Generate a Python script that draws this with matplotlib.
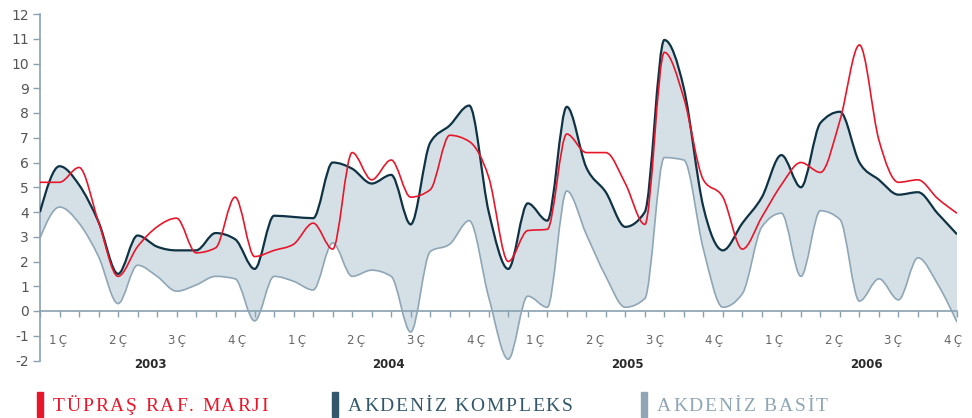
import numpy as np
import matplotlib
matplotlib.use('Agg')
import matplotlib.pyplot as plt
from matplotlib.path import Path
from matplotlib.patches import PathPatch, Rectangle

plt.rcParams['axes.unicode_minus'] = False

# aylik degerler, Ocak 2003 - Aralik 2006 (USD/varil)
tupras = [5.2, 5.2, 5.8, 3.6, 1.4, 2.6, 3.4, 3.75, 2.35, 2.55, 4.6, 2.2,
          2.45, 2.7, 3.55, 2.5, 6.4, 5.3, 6.1, 4.6, 4.9, 7.1, 6.85, 5.4,
          2.0, 3.25, 3.3, 7.15, 6.4, 6.4, 5.15, 3.5, 10.45, 8.6, 5.3, 4.6,
          2.5, 3.8, 5.1, 6.0, 5.6, 7.7, 10.75, 6.9, 5.2, 5.3, 4.55, 3.95]
kompleks = [4.0, 5.85, 5.1, 3.6, 1.5, 3.05, 2.6, 2.45, 2.45, 3.15, 2.9, 1.7,
            3.85, 3.8, 3.75, 6.0, 5.75, 5.15, 5.5, 3.5, 6.8, 7.5, 8.3, 4.0,
            1.7, 4.35, 3.65, 8.25, 5.8, 4.8, 3.4, 4.0, 10.95, 9.0, 4.2, 2.45,
            3.55, 4.6, 6.3, 5.0, 7.6, 8.05, 6.0, 5.3, 4.7, 4.8, 3.95, 3.1]
basit = [2.95, 4.2, 3.55, 2.2, 0.3, 1.85, 1.4, 0.8, 1.05, 1.4, 1.3, -0.4,
         1.4, 1.2, 0.85, 2.75, 1.4, 1.65, 1.4, -0.85, 2.4, 2.7, 3.65, 0.55,
         -1.95, 0.6, 0.15, 4.85, 3.1, 1.4, 0.15, 0.5, 6.2, 6.1, 2.5, 0.15,
         0.7, 3.4, 3.95, 1.4, 4.05, 3.7, 0.4, 1.3, 0.45, 2.15, 1.1, -0.45]

ceyrekler = ['1Ç', '2Ç', '3Ç', '4Ç'] * 4
yillar = ['2003', '2004', '2005', '2006']
seriler = ['TÜPRAŞ RAF. MARJI', 'AKDENİZ KOMPLEKS', 'AKDENİZ BASİT']

kirmizi = '#e8162b'
koyu = '#0f3344'
acik = '#8ea6b6'
dolgu = '#d4dfe6'
eksen = '#8aa1b1'


def egimler(x, y):
    # monoton kubik egimler (d3 monotoneX gibi)
    x = np.asarray(x, float)
    y = np.asarray(y, float)
    h = np.diff(x)
    s = np.diff(y) / h
    m = np.zeros_like(y)
    for i in range(1, len(y) - 1):
        p = (s[i - 1] * h[i] + s[i] * h[i - 1]) / (h[i - 1] + h[i])
        m[i] = (np.sign(s[i - 1]) + np.sign(s[i])) * min(abs(s[i - 1]), abs(s[i]), 0.5 * abs(p))
    m[0] = (3 * s[0] - m[1]) / 2
    m[-1] = (3 * s[-1] - m[-2]) / 2
    return m


def parcalar(x, y):
    m = egimler(x, y)
    segs = []
    for i in range(len(x) - 1):
        dx = (x[i + 1] - x[i]) / 3
        segs.append(((x[i], y[i]), (x[i] + dx, y[i] + dx * m[i]),
                     (x[i + 1] - dx, y[i + 1] - dx * m[i + 1]), (x[i + 1], y[i + 1])))
    return segs


def egri(x, y):
    segs = parcalar(x, y)
    verts = [segs[0][0]]
    for s in segs:
        verts += [s[1], s[2], s[3]]
    codes = [Path.MOVETO] + [Path.CURVE4] * (len(verts) - 1)
    return Path(verts, codes)


def alan(x, y_ust, y_alt):
    ust = parcalar(x, y_ust)
    alt = parcalar(x, y_alt)
    verts = [ust[0][0]]
    codes = [Path.MOVETO]
    for s in ust:
        verts += [s[1], s[2], s[3]]
        codes += [Path.CURVE4] * 3
    verts.append(alt[-1][3])
    codes.append(Path.LINETO)
    for s in reversed(alt):
        verts += [s[2], s[1], s[0]]
        codes += [Path.CURVE4] * 3
    verts.append(ust[0][0])
    codes.append(Path.CLOSEPOLY)
    return Path(verts, codes)


def aralikli_yazi(fig, x, y, metin, renk, boyut, aralik):
    # harf aralikli yazi, x ve y piksel
    r = fig.canvas.get_renderer()
    for ch in metin:
        if ch == ' ':
            x += boyut * 0.35 + aralik
            continue
        t = fig.text(x / 972, y / 418, ch, ha='left', va='baseline', color=renk,
                     fontsize=boyut, family='Liberation Serif')
        x += t.get_window_extent(r).width + aralik


x = np.arange(len(kompleks))

fig = plt.figure(figsize=(9.72, 4.18), dpi=100)
ax = fig.add_axes([40 / 972, 57.5 / 418, 917 / 972, 346.5 / 418])

ax.add_patch(PathPatch(alan(x, kompleks, basit), facecolor=dolgu, edgecolor='none', zorder=1))
ax.add_patch(PathPatch(egri(x, basit), facecolor='none', edgecolor=acik, lw=1.2, zorder=2))
ax.add_patch(PathPatch(egri(x, kompleks), facecolor='none', edgecolor=koyu, lw=1.6, zorder=3))
ax.add_patch(PathPatch(egri(x, tupras), facecolor='none', edgecolor=kirmizi, lw=1.2, zorder=4))

ax.set_xlim(0, len(x) - 1)
ax.set_ylim(-2, 12)
ax.set_yticks(range(-2, 13))
ax.set_xticks(x)
ax.set_xticklabels([])
for k in ['top', 'right']:
    ax.spines[k].set_visible(False)
ax.spines['bottom'].set_position(('data', 0))
ax.spines['bottom'].set_color(eksen)
ax.spines['left'].set_color(eksen)
ax.spines['bottom'].set_linewidth(1.2)
ax.spines['left'].set_linewidth(1.2)
ax.spines['bottom'].set_zorder(1.5)
ax.xaxis.set_zorder(1.5)
ax.tick_params(axis='y', direction='out', length=5, width=1, color=eksen,
               labelsize=10, labelcolor='#555555', pad=3)
ax.tick_params(axis='x', direction='out', length=4, width=1, color=eksen)

# ceyrek ve yil etiketleri
for xp, t in zip(np.linspace(0.92, 46.8, 16), ceyrekler):
    ax.text(xp, -1.2, t[0] + '\u2009' + t[1], ha='center', va='center', fontsize=8.5,
            color='#666666')
for xp, t in zip(np.linspace(5.64, 42.34, 4), yillar):
    ax.text(xp, -2.15, t, ha='center', va='center', fontsize=8.5, color='#2a2a2a',
            fontweight='bold')

# alt gosterge
renkler = [kirmizi, '#34586b', acik]
konumlar = [37, 332, 641]
for xp, t, c in zip(konumlar, seriler, renkler):
    fig.patches.append(Rectangle((xp / 972, 1 / 418), 6 / 972, 25 / 418, color=c,
                                 transform=fig.transFigure, figure=fig))
    aralikli_yazi(fig, xp + 16, 7, t, c, 14, 1.8)

fig.savefig('out.png', dpi=100)
